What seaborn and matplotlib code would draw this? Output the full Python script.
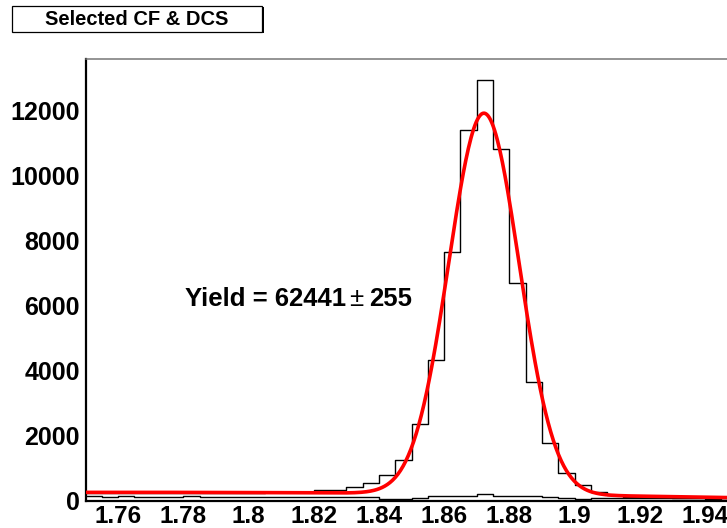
import numpy as np
import pandas as pd
import matplotlib
matplotlib.use("Agg")
import matplotlib.pyplot as plt
from matplotlib.patches import Rectangle
from matplotlib.ticker import FixedLocator, MultipleLocator
import seaborn as sns

# ---------------- data ----------------
x_min = 1.75
x_max = 1.95
bin_width = 0.005

# main histogram ("Selected CF & DCS"), one value per 0.005 bin from 1.75 to 1.95
main_counts = [230, 245, 240, 235, 240, 230, 235, 240, 230, 235,
               240, 265, 270, 275, 310, 335, 415, 545, 790, 1240,
               2360, 4330, 7640, 11400, 12930, 10820, 6700, 3650, 1770, 850,
               480, 270, 180, 120, 100, 95, 90, 90, 85, 80]

# low-level second histogram near the baseline
low_counts = [130, 120, 125, 120, 115, 120, 125, 115, 120, 110,
              115, 120, 110, 115, 110, 105, 100, 95, 60, 55,
              80, 150, 130, 150, 190, 150, 130, 150, 100, 70,
              60, 80, 75, 70, 75, 70, 65, 70, 60, 65]

# fit (gaussian signal + quadratic background) parameters
fit_mean = 1.8722
fit_sigma = 0.0108
fit_peak = 11720
bg_c0 = 250.0
bg_c1 = 114.6
bg_c2 = -4698.0

title_text = "Selected CF & DCS"
yield_value = 62441
yield_error = 255

x_major_ticks = [1.76, 1.78, 1.80, 1.82, 1.84, 1.86, 1.88, 1.90, 1.92, 1.94]
x_tick_labels = ["1.76", "1.78", "1.8", "1.82", "1.84", "1.86", "1.88", "1.9", "1.92", "1.94"]
y_major_ticks = [0, 2000, 4000, 6000, 8000, 10000, 12000]
y_tick_labels = ["0", "2000", "4000", "6000", "8000", "10000", "12000"]
y_max = 13580

# ---------------- plotting ----------------
sns.set_style("white")
plt.rcParams["font.family"] = ["Liberation Sans", "DejaVu Sans"]
plt.rcParams["font.weight"] = "bold"

W, H = 727, 528
fig = plt.figure(figsize=(W / 100, H / 100), dpi=100)
fig.patch.set_facecolor("white")

ax_left = 85.5 / W
ax_bottom = (H - 500.5) / H
ax_right = 737.6 / W
ax_top = (H - 59) / H
ax = fig.add_axes([ax_left, ax_bottom, ax_right - ax_left, ax_top - ax_bottom])

n_bins = len(main_counts)
centers = [x_min + (i + 0.5) * bin_width for i in range(n_bins)]
df = pd.DataFrame({"mass": centers, "main": main_counts, "low": low_counts})

sns.histplot(data=df, x="mass", weights="low", binwidth=bin_width,
             binrange=(x_min, x_max), element="step",
             fill=False, color="black", linewidth=1.0, ax=ax, zorder=2)
sns.histplot(data=df, x="mass", weights="main", binwidth=bin_width,
             binrange=(x_min, x_max), element="step",
             fill=False, color="black", linewidth=1.0, ax=ax, zorder=3)

fit_x = np.linspace(x_min, x_max, 500)
t = fit_x - x_min
fit_y = (fit_peak * np.exp(-0.5 * ((fit_x - fit_mean) / fit_sigma) ** 2)
         + bg_c0 + bg_c1 * t + bg_c2 * t ** 2)
sns.lineplot(x=fit_x, y=fit_y, color="#ff0000", linewidth=2.6, ax=ax, zorder=4)

ax.set_xlim(x_min, x_max)
ax.set_ylim(0, y_max)
ax.set_xlabel("")
ax.set_ylabel("")

ax.xaxis.set_major_locator(FixedLocator(x_major_ticks))
ax.set_xticklabels(x_tick_labels)
ax.xaxis.set_minor_locator(MultipleLocator(bin_width))
ax.yaxis.set_major_locator(FixedLocator(y_major_ticks))
ax.set_yticklabels(y_tick_labels)
ax.yaxis.set_minor_locator(MultipleLocator(500))

ax.tick_params(axis="x", which="major", direction="in", length=9.0, width=0.9,
               color="black", labelsize=17.5, pad=3)
ax.tick_params(axis="x", which="minor", direction="in", length=4.5, width=0.9,
               color="black")
ax.tick_params(axis="y", which="major", direction="in", length=13.5, width=0.9,
               color="black", labelsize=18, pad=4)
ax.tick_params(axis="y", which="minor", direction="in", length=7.0, width=0.9,
               color="black")
for lab in ax.get_xticklabels() + ax.get_yticklabels():
    lab.set_fontweight("bold")
    lab.set_color("black")

for side in ["left", "bottom"]:
    ax.spines[side].set_color("black")
    ax.spines[side].set_linewidth(1.6)
ax.spines["top"].set_color("#777777")
ax.spines["top"].set_linewidth(1.1)
ax.spines["right"].set_visible(False)

# yield annotation
t1 = ax.text(1.7806, 5990, f"Yield = {yield_value}", fontsize=18.5,
             fontweight="bold", ha="left", va="baseline", color="black")
t2 = ax.annotate("\u00b1", xy=(1, 0), xycoords=t1, xytext=(2, 0),
                 textcoords="offset points", fontsize=18.5, fontweight="normal",
                 ha="left", va="bottom", color="black")
t3 = ax.annotate(f"{yield_error}", xy=(1, 0), xycoords=t2, xytext=(4, 0),
                 textcoords="offset points", fontsize=18.5, fontweight="bold",
                 ha="left", va="bottom", color="black")

# title box with shadow
bx0, bx1 = 11.7, 262.0
by0, by1 = 5.7, 31.7
shadow = Rectangle(((bx0 + 1.5) / W, (H - by1 - 1.5) / H), (bx1 - bx0) / W,
                   (by1 - by0) / H, transform=fig.transFigure,
                   facecolor="black", edgecolor="none", zorder=5)
box = Rectangle((bx0 / W, (H - by1) / H), (bx1 - bx0) / W, (by1 - by0) / H,
                transform=fig.transFigure, facecolor="white",
                edgecolor="black", linewidth=0.9, zorder=6)
fig.add_artist(shadow)
fig.add_artist(box)
fig.text((bx0 + bx1) / 2 / W, (H - 25.0) / H, title_text, fontsize=14.5,
         fontweight="bold", ha="center", va="baseline", color="black", zorder=7)

fig.savefig("out.png", dpi=100, facecolor="white")
